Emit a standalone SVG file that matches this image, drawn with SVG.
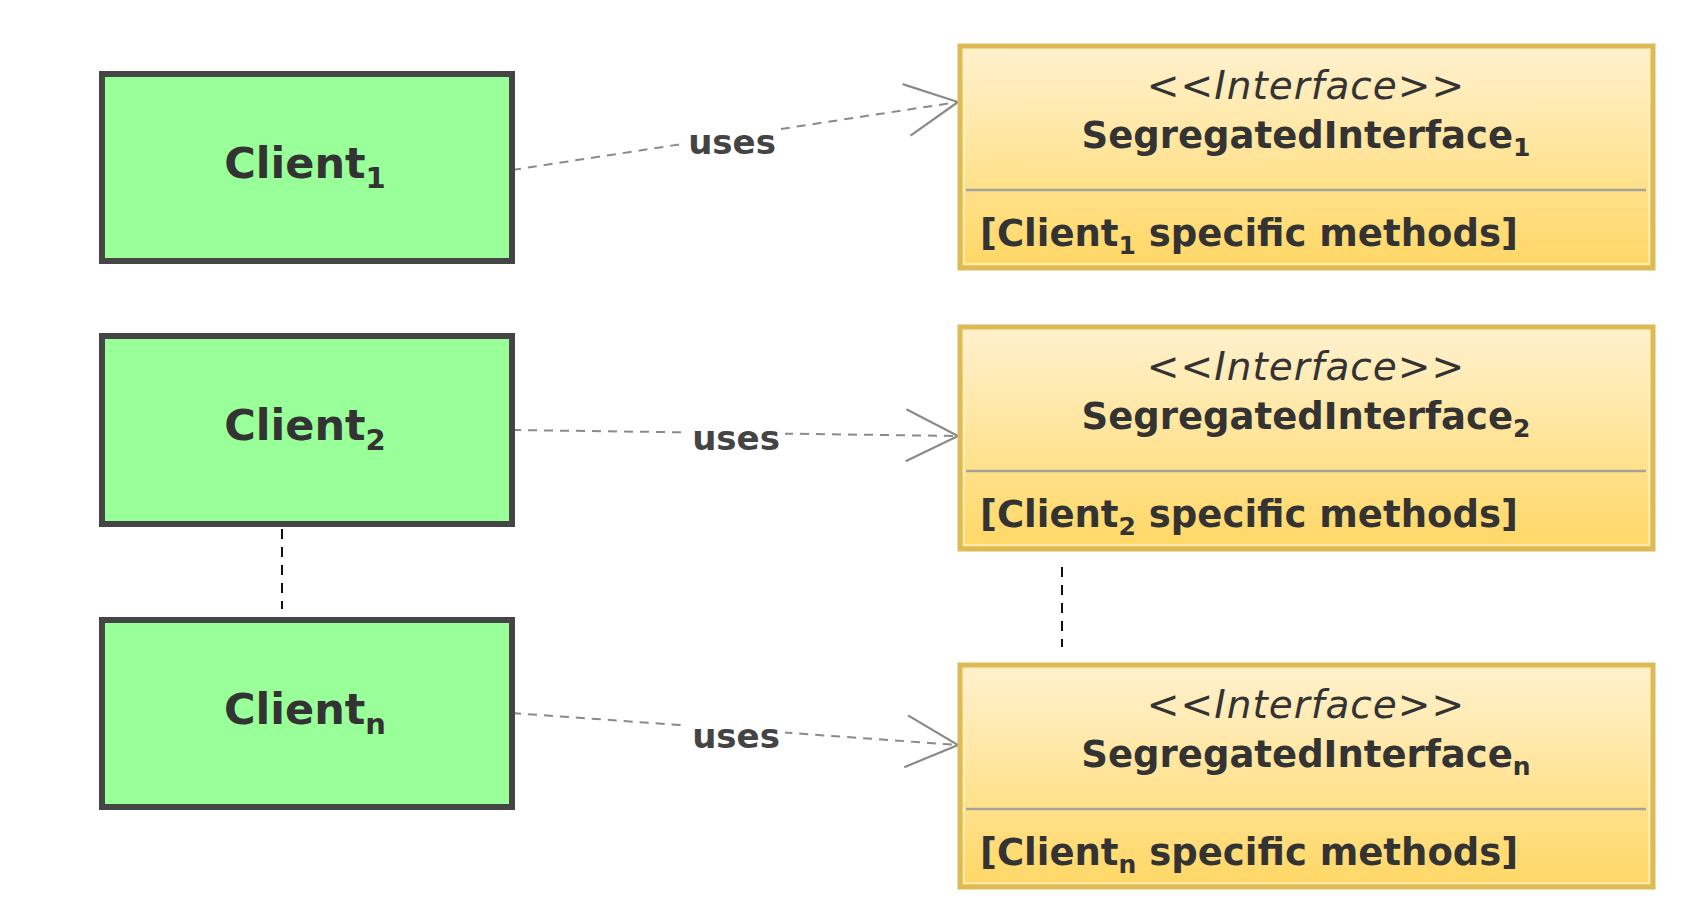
<svg xmlns="http://www.w3.org/2000/svg" width="1684" height="904" viewBox="0 0 1684 904">
<style>
.client rect{fill:#99FF99;stroke:#454545;stroke-width:6}
.ctext{font-family:"DejaVu Sans",Verdana,sans-serif;font-weight:bold;font-size:43px;fill:#333;text-anchor:middle}
.sub{font-size:29px}
.ibox{fill:url(#gold);stroke:#DDBA55;stroke-width:5}
.iin{fill:none;stroke:#FFF0C0;stroke-width:1.5}
.div{stroke:#A5A29A;stroke-width:2.5}
.ster{font-family:"DejaVu Sans",Verdana,sans-serif;font-style:italic;font-size:39px;letter-spacing:1px;fill:#333;text-anchor:middle}
.iname{font-family:"DejaVu Sans",Verdana,sans-serif;font-weight:bold;font-size:37px;fill:#333;text-anchor:middle}
.meth{font-family:"DejaVu Sans",Verdana,sans-serif;font-weight:bold;font-size:37px;fill:#333}
.isub{font-size:25px}
.conn{fill:none;stroke:#8A8A8A;stroke-width:2;stroke-dasharray:9 7}
.lbl{font-family:"DejaVu Sans",Verdana,sans-serif;font-weight:bold;font-size:34px;fill:#444;text-anchor:middle}
.lblbg{fill:#fff}
.vdash{fill:none;stroke:#111;stroke-width:2;stroke-dasharray:10 8}
</style>
<defs>
<linearGradient id="gold" x1="0" y1="0" x2="0" y2="1">
<stop offset="0" stop-color="#FFF1CF"/>
<stop offset="0.6" stop-color="#FFE28E"/>
<stop offset="1" stop-color="#FFD765"/>
</linearGradient>
<marker id="open" markerUnits="userSpaceOnUse" markerWidth="70" markerHeight="70" refX="0" refY="0" viewBox="-60 -35 70 70" orient="auto" overflow="visible">
<path d="M -52 -26 L 0 0 L -52 26" fill="none" stroke="#8A8A8A" stroke-width="2.2"/>
</marker>
</defs>
<rect width="1684" height="904" fill="#fff"/>

<g id="connectors">
<line class="conn" x1="512" y1="170" x2="958" y2="102" marker-end="url(#open)"/>
<rect class="lblbg" x="683" y="128" width="98" height="30"/>
<text class="lbl" x="732" y="154">uses</text>
<line class="conn" x1="512" y1="430" x2="958" y2="436" marker-end="url(#open)"/>
<rect class="lblbg" x="687" y="424" width="98" height="30"/>
<text class="lbl" x="736" y="450">uses</text>
<line class="conn" x1="512" y1="713" x2="958" y2="745" marker-end="url(#open)"/>
<rect class="lblbg" x="687" y="722" width="98" height="30"/>
<text class="lbl" x="736" y="748">uses</text>
<line class="vdash" x1="282" y1="529" x2="282" y2="609"/>
<line class="vdash" x1="1062" y1="567" x2="1062" y2="647"/>
</g>

<g id="client1" class="client">
<rect x="102" y="74" width="410" height="187"/>
<text class="ctext" x="305" y="178">Client<tspan class="sub" dy="10">1</tspan></text>
</g>
<g id="client2" class="client">
<rect x="102" y="336" width="410" height="188"/>
<text class="ctext" x="305" y="440">Client<tspan class="sub" dy="10">2</tspan></text>
</g>
<g id="clientn" class="client">
<rect x="102" y="620" width="410" height="187"/>
<text class="ctext" x="305" y="724">Client<tspan class="sub" dy="10">n</tspan></text>
</g>

<g id="interface1">
<rect class="ibox" x="960" y="46" width="693" height="222"/>
<rect class="iin" x="964" y="50" width="685" height="214"/>
<line class="div" x1="966" y1="190" x2="1646" y2="190"/>
<text class="ster" x="1306" y="99">&lt;&lt;Interface&gt;&gt;</text>
<text class="iname" x="1306" y="148">SegregatedInterface<tspan class="isub" dy="8">1</tspan></text>
<text class="meth" x="980" y="246">[Client<tspan class="isub" dy="8">1</tspan><tspan dy="-8"> specific methods]</tspan></text>
</g>
<g id="interface2">
<rect class="ibox" x="960" y="327" width="693" height="222"/>
<rect class="iin" x="964" y="331" width="685" height="214"/>
<line class="div" x1="966" y1="471" x2="1646" y2="471"/>
<text class="ster" x="1306" y="380">&lt;&lt;Interface&gt;&gt;</text>
<text class="iname" x="1306" y="429">SegregatedInterface<tspan class="isub" dy="8">2</tspan></text>
<text class="meth" x="980" y="527">[Client<tspan class="isub" dy="8">2</tspan><tspan dy="-8"> specific methods]</tspan></text>
</g>
<g id="interfacen">
<rect class="ibox" x="960" y="665" width="693" height="222"/>
<rect class="iin" x="964" y="669" width="685" height="214"/>
<line class="div" x1="966" y1="809" x2="1646" y2="809"/>
<text class="ster" x="1306" y="718">&lt;&lt;Interface&gt;&gt;</text>
<text class="iname" x="1306" y="767">SegregatedInterface<tspan class="isub" dy="8">n</tspan></text>
<text class="meth" x="980" y="865">[Client<tspan class="isub" dy="8">n</tspan><tspan dy="-8"> specific methods]</tspan></text>
</g>
</svg>
